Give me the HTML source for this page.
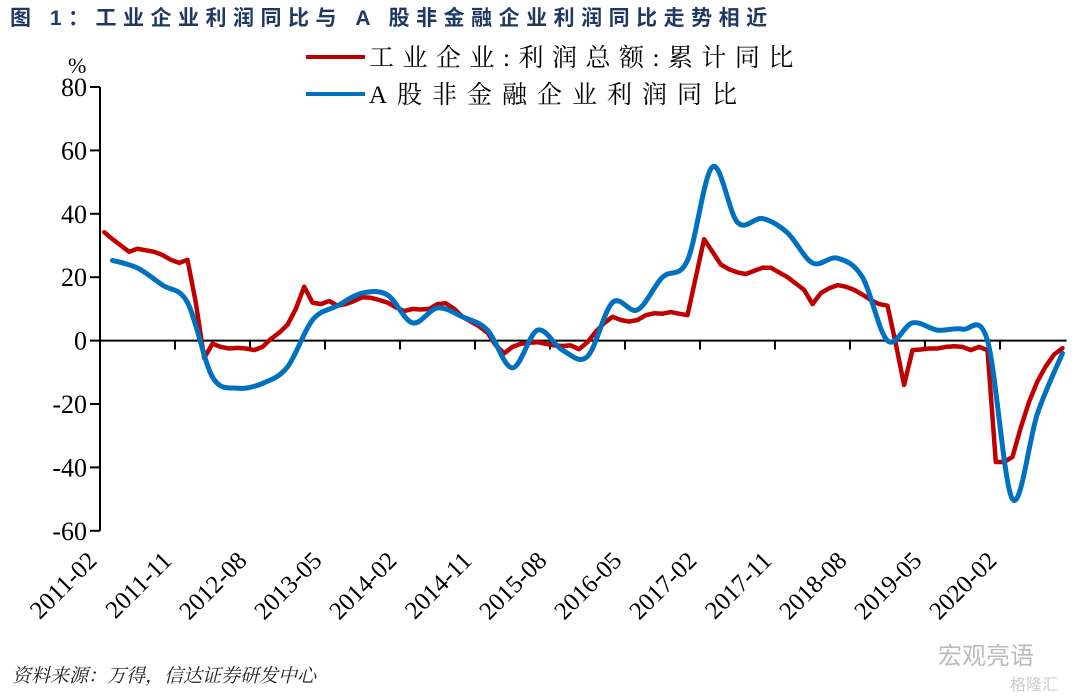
<!DOCTYPE html>
<html><head><meta charset="utf-8"><style>
body{margin:0;background:#fff;width:1080px;height:697px;overflow:hidden}
svg{display:block}
</style></head><body>
<svg id="chart" width="1080" height="697" viewBox="0 0 1080 697">
<text x="10" y="25" font-family="'Liberation Sans','Noto Sans CJK SC',sans-serif" font-weight="bold" font-size="21" fill="#1f3864" letter-spacing="6.5">图 1：工业企业利润同比与 A 股非金融企业利润同比走势相近</text>
<g>
<line x1="306" y1="57" x2="365" y2="57" stroke="#c00000" stroke-width="4"/>
<text x="369" y="66" font-family="'Liberation Serif','Noto Serif CJK SC',serif" font-size="25" letter-spacing="8.5">工业企业:利润总额:累计同比</text>
<line x1="306" y1="94" x2="365" y2="94" stroke="#0070c0" stroke-width="4"/>
<text x="369" y="103" font-family="'Liberation Serif','Noto Serif CJK SC',serif" font-size="25" letter-spacing="10">A股非金融企业利润同比</text>
</g>
<text x="68" y="73" font-family="'Liberation Serif',serif" font-size="22">%</text>
<g id="axes"></g>
<g id="series"></g>
<text x="12" y="682" font-family="'Liberation Serif','Noto Serif CJK SC',serif" font-style="italic" font-size="19" fill="#222">资料来源：万得，信达证券研发中心</text>
<text x="938" y="664" font-family="'Liberation Sans','Noto Sans CJK SC',sans-serif" font-size="24" fill="#bbb">宏观亮语</text>
<text x="1010" y="690" font-family="'Liberation Sans','Noto Sans CJK SC',sans-serif" font-size="16" fill="#ccc">格隆汇</text>
</svg>
<script>
const yTicks=[80,60,40,20,0,-20,-40,-60];
const xLabels=["2011-02","2011-11","2012-08","2013-05","2014-02","2014-11","2015-08","2016-05","2017-02","2017-11","2018-08","2019-05","2020-02"];
const industrial=[34.2,32,30,28,29,28.5,28,27,25.5,24.5,25.5,12,-5.5,-1,-2,-2.5,-2.3,-2.5,-3,-2,0.5,2.5,5,10,17,12,11.5,12.5,11,11.5,12.5,13.7,13.5,12.8,12,10.5,9.3,10,9.8,10,11.5,11.8,10,7.5,6,4.5,2.5,-1.5,-4,-2,-1,-0.7,-0.5,-1,-1.5,-1.7,-1.5,-2.7,-0.5,2.8,5.5,7.5,6.5,6,6.5,8,8.6,8.5,9,8.5,8,20,32,28,24,22.5,21.5,21,22,23,23,21.5,20,18,16,11.5,15,16.5,17.5,17,16,14.5,12.8,11.5,11,-1,-14,-3,-2.8,-2.5,-2.5,-2,-1.8,-2,-3,-2,-3,-38.3,-38.3,-36.7,-27.4,-19.3,-12.8,-8.1,-4.4,-2.4];
const aShareMonths=[1,4,7,10,13,16,19,22,25,28,31,34,37,40,43,46,49,52,55,58,61,64,67,70,73,76,79,82,85,88,91,94,97,100,103,106,109,112,115];
const aShare=[25.3,22.9,17.5,12,-11.5,-15,-13.5,-8.3,6.5,11,15,14.4,5.6,10.3,7.5,3.3,-8.6,3.3,-3,-5,12,9.7,20,25.3,54.8,37.3,38.5,34,24.5,26,20,0,5.6,3.3,3.6,0,-50,-23,-4];

const NS="http://www.w3.org/2000/svg";
const X0=100,STEP=8.333,Y0=340.6,YS=3.17;
const xs=i=>X0+STEP*(i+0.5);
const ys=v=>Y0-v*YS;
const axes=document.getElementById('axes'),series=document.getElementById('series');
function mk(tag,attrs,parent){const e=document.createElementNS(NS,tag);for(const k in attrs)e.setAttribute(k,attrs[k]);parent.appendChild(e);return e;}
const yAxis=mk('line',{x1:X0,y1:ys(80),x2:X0,y2:ys(-60),stroke:'#000','stroke-width':2},axes);


yTicks.forEach(v=>{
 const t=mk('line',{x1:X0-10,y1:ys(v),x2:X0,y2:ys(v),stroke:'#000','stroke-width':2},axes);
 
 
 const l=mk('text',{x:X0-13,y:ys(v)+9,'text-anchor':'end','font-family':"'Liberation Serif',serif",'font-size':26},axes);
 l.textContent=v;
 
 
});
const xAxis=mk('line',{x1:X0,y1:ys(0),x2:X0+STEP*116,y2:ys(0),stroke:'#000','stroke-width':2},axes);


for(let k=1;k<=12;k++){
 const xx=X0+STEP*9*k;
 const t=mk('line',{x1:xx,y1:ys(0),x2:xx,y2:ys(0)+9,stroke:'#000','stroke-width':2},axes);
 
 
}
xLabels.forEach((s,k)=>{
 const xx=xs(9*k)-6,yy=562;
 const l=mk('text',{x:xx,y:yy,'text-anchor':'end','font-family':"'Liberation Serif',serif",'font-size':25,transform:`rotate(-45 ${xx} ${yy})`},axes);
 l.textContent=s;
 
 
});
function smooth(pts){
 let d=`M${pts[0][0]},${pts[0][1]}`;
 for(let i=0;i<pts.length-1;i++){
  const p0=pts[Math.max(0,i-1)],p1=pts[i],p2=pts[i+1],p3=pts[Math.min(pts.length-1,i+2)];
  const c1=[p1[0]+(p2[0]-p0[0])/6,p1[1]+(p2[1]-p0[1])/6],c2=[p2[0]-(p3[0]-p1[0])/6,p2[1]-(p3[1]-p1[1])/6];
  d+=`C${c1[0]},${c1[1]} ${c2[0]},${c2[1]} ${p2[0]},${p2[1]}`;
 }
 return d;
}
const redPts=industrial.map((v,i)=>[xs(i),ys(v)]);
const redD='M'+redPts.map(p=>p[0].toFixed(1)+','+p[1].toFixed(1)).join('L');
const red=mk('path',{d:redD,fill:'none',stroke:'#c00000','stroke-width':4.5,'stroke-linejoin':'round','stroke-linecap':'round'},series);


const bluePts=aShare.map((v,k)=>[xs(aShareMonths[k]),ys(v)]);
const blue=mk('path',{d:smooth(bluePts),fill:'none',stroke:'#0070c0','stroke-width':5,'stroke-linejoin':'round','stroke-linecap':'round'},series);


</script>
</body></html>
